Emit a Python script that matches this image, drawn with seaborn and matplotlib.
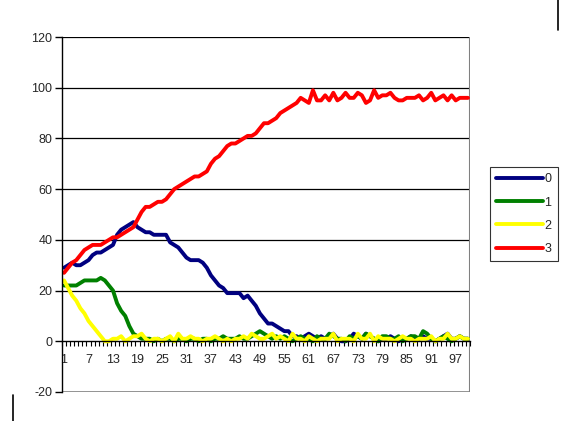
import numpy as np
import pandas as pd
import matplotlib
matplotlib.use("Agg")
import matplotlib.pyplot as plt
from matplotlib.lines import Line2D
import seaborn as sns

# values (x = 1..100)
steps = list(range(1, 101))

s0 = [29,30,31,30,30,31,32,34,35,35, 36,37,38,42,44,45,46,47,45,44,
      43,43,42,42,42,42,39,38,37,35, 33,32,32,32,31,29,26,24,22,21,
      19,19,19,19,17,18,16,14,11,9, 7,7,6,5,4,4,2,2,1,2,
      3,2,1,2,1,2,3,1,0,0, 1,3,2,1,3,2,1,0,1,1,
      2,1,0,1,1,2,1,1,2,1, 1,0,1,2,3,1,1,2,1,1]
s1 = [22,22,22,22,23,24,24,24,24,25, 24,22,20,15,12,10,6,3,2,1,
      1,1,0,1,0,1,1,0,1,1, 0,1,1,0,1,1,0,1,1,2,
      1,1,1,2,1,1,2,3,4,3, 2,1,2,1,2,1,0,1,2,1,
      1,0,2,1,1,3,2,1,1,0, 2,1,2,1,3,2,1,0,2,2,
      1,1,2,0,1,2,2,1,4,3, 1,0,1,2,1,0,1,2,1,1]
s2 = [24,21,18,16,13,11,8,6,4,2, 0,0,1,1,2,0,1,2,2,3,
      1,0,1,1,0,1,2,0,3,1, 1,2,1,1,0,1,1,2,1,0,
      1,0,1,1,2,1,3,2,1,1, 2,3,1,2,1,0,3,1,1,0,
      2,1,0,1,1,1,3,0,1,1, 1,0,3,1,1,3,0,2,1,1,
      1,0,1,2,1,1,0,1,1,1, 2,0,1,1,3,1,1,2,1,1]
s3 = [27,29,31,32,34,36,37,38,38,38, 39,40,41,41,42,43,44,45,48,51,
      53,53,54,55,55,56,58,60,61,62, 63,64,65,65,66,67,70,72,73,75,
      77,78,78,79,80,81,81,82,84,86, 86,87,88,90,91,92,93,94,96,95,
      94,99,95,95,97,95,98,95,96,98, 96,96,98,97,94,95,99,96,97,97,
      98,96,95,95,96,96,96,97,95,96, 98,95,96,97,95,97,95,96,96,96]

series_names = ["0", "1", "2", "3"]
colors = ["#000080", "#008000", "#FFFF00", "#FF0000"]
xtick_labels = list(range(1, 101, 6))

df = pd.DataFrame({
    "x": steps * 4,
    "value": s0 + s1 + s2 + s3,
    "series": sum([[n] * len(steps) for n in series_names], []),
})

sns.set_style("white")
plt.rcParams["font.family"] = ["Liberation Sans", "DejaVu Sans"]
plt.rcParams["axes.unicode_minus"] = False

fig = plt.figure(figsize=(5.63, 4.21), dpi=100)
ax = fig.add_axes([62/563, 1-392/421, (470-62)/563, (392-37)/421])

sns.lineplot(data=df, x="x", y="value", hue="series", palette=colors,
             linewidth=2.8, ax=ax, legend=False)
for ln in ax.get_lines():
    ln.set_solid_joinstyle("round")
    ln.set_solid_capstyle("round")

ax.set_xlim(0.5, 100.5)
ax.set_ylim(-20, 120)
ax.set_xlabel("")
ax.set_ylabel("")

# gridlines
for v in range(20, 121, 20):
    ax.axhline(v, color="black", lw=0.9, zorder=0)
ax.axhline(-20, color="#808080", lw=1.2, zorder=0)

for side in ["top", "right"]:
    ax.spines[side].set_visible(False)
ax.axvline(100.5, color="#808080", lw=1.5, zorder=0)
ax.spines["left"].set_color("black")
ax.spines["left"].set_linewidth(1.0)
ax.spines["bottom"].set_position(("data", 0))
ax.spines["bottom"].set_color("black")
ax.spines["bottom"].set_linewidth(1.0)

ax.set_yticks(range(-20, 121, 20))
ax.tick_params(axis="y", direction="out", length=5, width=1, color="black",
               labelsize=9, pad=2, left=True)
ax.set_xticks(xtick_labels)
ax.set_xticklabels([str(t) for t in xtick_labels])
ax.set_xticks(np.arange(0.5, 101, 1), minor=True)
ax.tick_params(axis="x", which="major", length=0, labelsize=9, pad=9, bottom=True)
ax.tick_params(axis="x", which="minor", direction="out", length=3.5, width=0.8,
               color="black", bottom=True)

handles = [Line2D([0], [0], color=c, lw=2.8, solid_capstyle="round") for c in colors]
leg = ax.legend(handles, series_names, loc="upper left",
                bbox_to_anchor=(490/563, 1-167/421), bbox_transform=fig.transFigure,
                frameon=True, fancybox=False, edgecolor="black", fontsize=9,
                handlelength=3.7, handletextpad=0.15, labelspacing=0.9,
                borderpad=0.5, borderaxespad=0)
leg.get_frame().set_linewidth(0.8)

# chart area border pieces
fig.add_artist(Line2D([13/563, 13/563], [0, 1-395/421], color="black", lw=1.2,
                      transform=fig.transFigure))
fig.add_artist(Line2D([558/563, 558/563], [1-30/421, 1], color="black", lw=1.2,
                      transform=fig.transFigure))

fig.savefig("out.png", dpi=100)
